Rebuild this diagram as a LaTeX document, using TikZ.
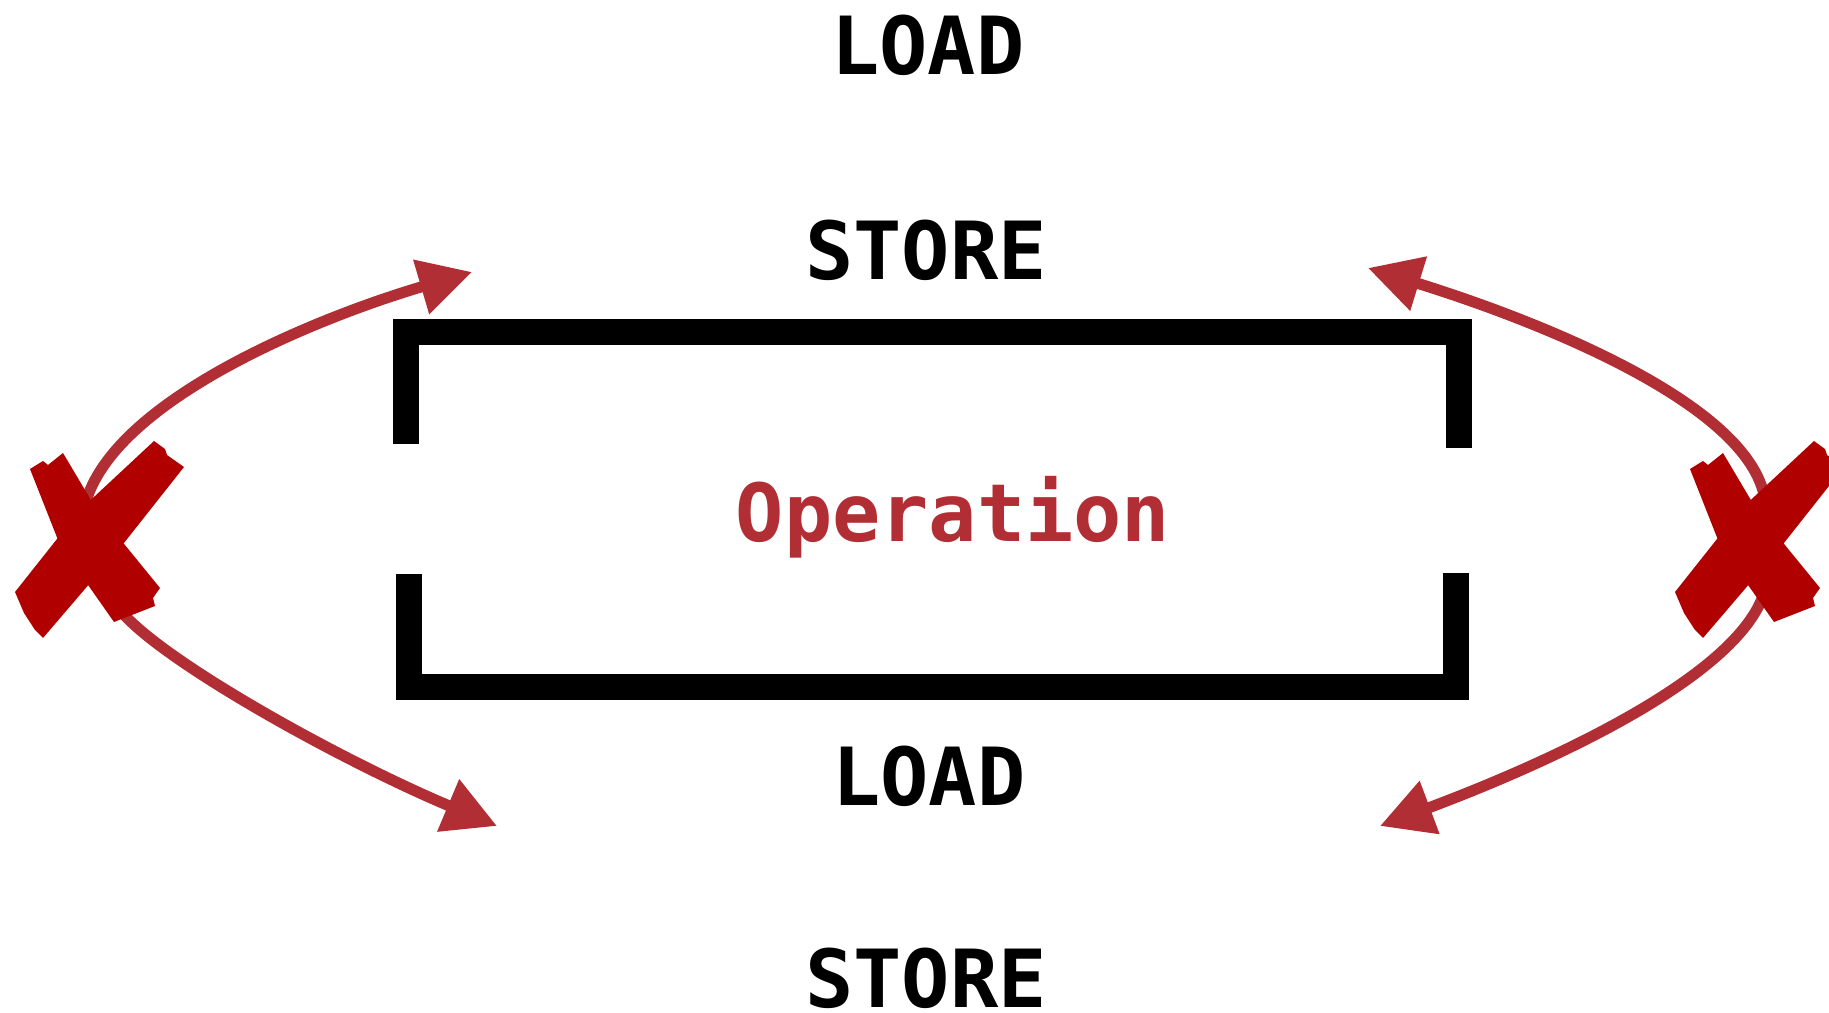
\documentclass[tikz,border=0pt]{standalone}
\usepackage{fontspec}
\setmonofont{DejaVu Sans Mono}
\usepackage{tikz}
\usetikzlibrary{arrows.meta}
\definecolor{arrowred}{RGB}{178,46,53}
\definecolor{crossred}{RGB}{176,0,0}
\tikzstyle{word} = [font=\fontsize{22.8}{27}\selectfont\ttfamily\bfseries, inner sep=0pt, anchor=base]
\tikzstyle{bracket} = [draw, line width=0.26cm, line join=miter]
\tikzstyle{line} = [draw, arrowred, line width=0.11cm, -{Triangle[length=0.53cm, width=0.54cm]}]
\tikzstyle{cross} = [fill=crossred]

\begin{document}
\begin{tikzpicture}[x=0.01cm, y=-0.01cm]
    \useasboundingbox (0,0) rectangle (1829,1013);
    \node [word] (loadtop) at (928,75) {LOAD};
    \node [word] (storetop) at (926,280) {STORE};
    \node [word, arrowred] (op) at (953,542) {Operation};
    \node [word] (loadbot) at (929,806) {LOAD};
    \node [word] (storebot) at (926,1008) {STORE};
    % open frame around the operation
    \path [bracket] (406,444) -- (406,332) -- (1459,332) -- (1459,448);
    \path [bracket] (409,574) -- (409,687) -- (1456,687) -- (1456,573);
    % ends of the curved arrows
    \coordinate (crossleftup) at (85,505);
    \coordinate (crossleftdown) at (120,610);
    \coordinate (crossrightup) at (1765,500);
    \coordinate (crossrightdown) at (1765,590);
    \coordinate (tipleftup) at (472,272);
    \coordinate (tipleftdown) at (497,826);
    \coordinate (tiprightup) at (1368,268);
    \coordinate (tiprightdown) at (1380,826);
    \path [line] (crossleftup) .. controls (112,400) and (319,317) .. (tipleftup);
    \path [line] (crossleftdown) .. controls (160,660) and (340,760) .. (tipleftdown);
    \path [line] (crossrightup) .. controls (1750,400) and (1520,315) .. (tiprightup);
    \path [line] (crossrightdown) .. controls (1740,680) and (1530,770) .. (tiprightdown);
    % crossed out
    \foreach \dx in {0,1660} {
        \begin{scope}[shift={(\dx,0)}]
            \fill [cross] (30,469) -- (43,461) -- (48,465) -- (63,453) -- (98,512) -- (160,588)
                -- (153,598) -- (155,606) -- (114,622) -- (60,545) -- cycle;
            \fill [cross] (154,441) -- (165,449) -- (167,455) -- (184,467) -- (120,548) -- (43,638)
                -- (35,630) -- (24,613) -- (15,592) -- (80,510) -- cycle;
        \end{scope}
    }
\end{tikzpicture}
\end{document}
